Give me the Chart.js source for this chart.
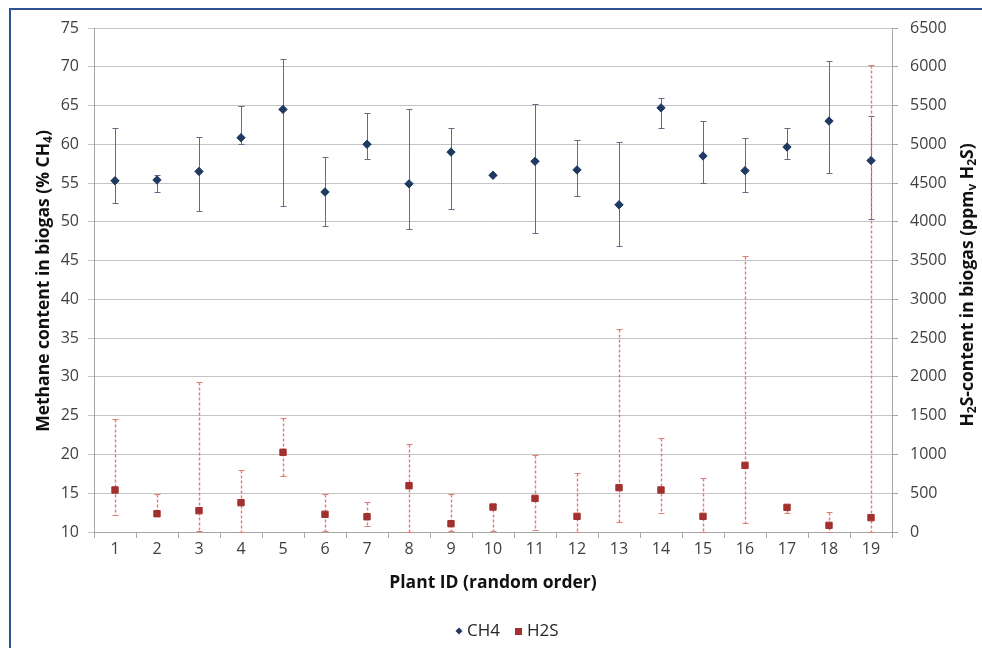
<!DOCTYPE html>
<html>
<head>
<meta charset="utf-8">
<script src="https://cdn.jsdelivr.net/npm/chart.js@4.4.1/dist/chart.umd.min.js"></script>
<style>
  html, body { margin: 0; padding: 0; background: #fff; overflow: hidden; }
  #wrap { position: relative; width: 982px; height: 648px; }
  #frame { position: absolute; left: 9px; top: 8px; width: 1100px; height: 800px; border: 2px solid #2e548f; box-sizing: border-box; }
  #biogasChart { position: absolute; left: 0; top: 0; }
</style>
</head>
<body>
<div id="wrap">
  <div id="frame"></div>
  <canvas id="biogasChart" width="982" height="648"></canvas>
</div>
<script>
const plantIds = ['1','2','3','4','5','6','7','8','9','10','11','12','13','14','15','16','17','18','19'];

// methane, % CH4 (left axis)
const ch4Mean = [55.3, 55.4, 56.5, 60.85, 64.5, 53.85, 60.0, 54.9, 59.0, 56.0, 57.8, 56.7, 52.2, 64.7, 58.5, 56.6, 59.65, 63.0, 57.9];
const ch4High = [62.1, 56.1, 60.9, 65.0, 71.0, 58.4, 64.0, 64.6, 62.1, 56.0, 65.2, 60.6, 60.3, 66.0, 63.0, 60.8, 62.1, 70.8, 63.7];
const ch4Low  = [52.4, 53.9, 51.4, 60.0, 52.0, 49.4, 58.1, 49.1, 51.7, 56.0, 48.5, 53.3, 46.9, 62.1, 55.0, 53.8, 58.1, 56.3, 50.4];

// hydrogen sulphide, ppmv (right axis)
const h2sMean = [542, 236, 275, 378, 1028, 228, 197, 597, 107, 322, 434, 202, 572, 542, 202, 860, 318, 86, 185];
const h2sHigh = [1453, 494, 1930, 796, 1474, 494, 391, 1131, 494, 357, 993, 757, 2614, 1208, 696, 3563, 348, 262, 6023];
const h2sLow  = [215, 236, 17, 0, 718, 17, 77, 0, 17, 17, 26, 0, 129, 249, 0, 116, 249, 0, 0];

// axis ranges
const ch4Axis = { min: 10, max: 75, step: 5 };
const h2sAxis = { min: 0, max: 6500, step: 500 };

const navy = '#1f3961';
const darkRed = '#a2302e';
const tickFont = { family: 'Open Sans', size: 16 };
const titleFont = 'bold 17.5px "Open Sans"';

function drawBars(ctx, xs, ys, mean, lo, hi, color, dash, width) {
    ctx.save();
    ctx.strokeStyle = color;
    mean.forEach((m, i) => {
        const px = Math.round(xs.getPixelForValue(i)) + 0.5;
        const yTop = Math.round(ys.getPixelForValue(hi[i])) + 0.5;
        const yBot = Math.round(ys.getPixelForValue(lo[i])) + 0.5;
        if (hi[i] <= lo[i]) return;
        ctx.lineWidth = width;
        ctx.setLineDash(dash);
        ctx.beginPath();
        ctx.moveTo(px, yTop);
        ctx.lineTo(px, yBot);
        ctx.stroke();
        ctx.lineWidth = 1;
        ctx.setLineDash([]);
        ctx.beginPath();
        if (hi[i] > m) { ctx.moveTo(px - 3, yTop); ctx.lineTo(px + 3, yTop); }
        if (lo[i] < m) { ctx.moveTo(px - 3, yBot); ctx.lineTo(px + 3, yBot); }
        ctx.stroke();
    });
    ctx.restore();
}

// text with subscripts, drawn rotated or flat
function drawRich(ctx, parts, cx, cy, rot) {
    ctx.save();
    ctx.translate(cx, cy);
    ctx.rotate(rot);
    const subFont = 'bold 12px "Open Sans"';
    let total = 0;
    parts.forEach(p => { ctx.font = p.sub ? subFont : titleFont; total += ctx.measureText(p.t).width; });
    let x = -total / 2;
    ctx.fillStyle = '#111';
    ctx.textBaseline = 'middle';
    ctx.textAlign = 'left';
    parts.forEach(p => {
        ctx.font = p.sub ? subFont : titleFont;
        ctx.fillText(p.t, x, p.sub ? 5 : 0);
        x += ctx.measureText(p.t).width;
    });
    ctx.restore();
}

const extras = {
    id: 'extras',
    beforeDatasetsDraw(chart) {
        const xs = chart.scales.x;
        drawBars(chart.ctx, xs, chart.scales.y, ch4Mean, ch4Low, ch4High, '#5f6d8a', [], 1);
        drawBars(chart.ctx, xs, chart.scales.y1, h2sMean, h2sLow, h2sHigh, '#e27a76', [3, 2], 1.4);
    },
    afterDraw(chart) {
        const ctx = chart.ctx;
        const area = chart.chartArea;
        const midY = (area.top + area.bottom) / 2;
        drawRich(ctx, [{ t: 'Methane content in biogas (% CH' }, { t: '4', sub: true }, { t: ')' }], 44, midY + 1, -Math.PI / 2);
        drawRich(ctx, [{ t: 'H' }, { t: '2', sub: true }, { t: 'S-content in biogas (ppm' }, { t: 'v', sub: true },
                       { t: ' H' }, { t: '2', sub: true }, { t: 'S)' }], 968, midY + 5, -Math.PI / 2);
        drawRich(ctx, [{ t: 'Plant ID (random order)' }], (area.left + area.right) / 2, 583, 0);

        // legend
        ctx.save();
        ctx.font = '17px "Open Sans"';
        ctx.textBaseline = 'middle';
        const ly = 631;
        ctx.fillStyle = navy;
        ctx.beginPath();
        ctx.moveTo(459, ly - 3.5); ctx.lineTo(462.5, ly); ctx.lineTo(459, ly + 3.5); ctx.lineTo(455.5, ly);
        ctx.closePath(); ctx.fill();
        ctx.fillStyle = '#262626';
        ctx.fillText('CH4', 467, ly);
        ctx.fillStyle = darkRed;
        ctx.fillRect(515, ly - 3, 7, 7);
        ctx.fillStyle = '#262626';
        ctx.fillText('H2S', 527, ly);
        ctx.restore();
    }
};

const ctx = document.getElementById('biogasChart').getContext('2d');
new Chart(ctx, {
    type: 'line',
    data: {
        labels: plantIds,
        datasets: [
            {
                label: 'CH4',
                data: ch4Mean,
                yAxisID: 'y',
                showLine: false,
                pointStyle: 'rectRot',
                pointRadius: 4.2,
                pointBackgroundColor: navy,
                pointBorderColor: navy,
                pointBorderWidth: 1
            },
            {
                label: 'H2S',
                data: h2sMean,
                yAxisID: 'y1',
                showLine: false,
                pointStyle: 'rect',
                pointRadius: 4.5,
                pointBackgroundColor: darkRed,
                pointBorderColor: darkRed,
                pointBorderWidth: 1
            }
        ]
    },
    options: {
        responsive: false,
        animation: false,
        layout: { padding: { top: 28, left: 0, right: 0, bottom: 0 } },
        plugins: { legend: { display: false }, tooltip: { enabled: false } },
        scales: {
            x: {
                offset: true,
                grid: { offset: true, drawOnChartArea: false, tickLength: 6, color: '#a6a6a6' },
                border: { color: '#a6a6a6' },
                ticks: { font: tickFont, color: '#404040', padding: 2, maxRotation: 0 },
                afterFit: scale => { scale.height = 116; }
            },
            y: {
                position: 'left',
                min: ch4Axis.min, max: ch4Axis.max,
                grid: { color: '#c4c4c4', tickLength: 6 },
                border: { color: '#a6a6a6' },
                ticks: { stepSize: ch4Axis.step, font: tickFont, color: '#404040', padding: 9 },
                afterFit: scale => { scale.width = 94; }
            },
            y1: {
                position: 'right',
                min: h2sAxis.min, max: h2sAxis.max,
                grid: { drawOnChartArea: false, color: '#a6a6a6', tickLength: 6 },
                border: { color: '#a6a6a6' },
                ticks: { stepSize: h2sAxis.step, font: tickFont, color: '#404040', padding: 12,
                         callback: v => String(v) },
                afterFit: scale => { scale.width = 90; }
            }
        }
    },
    plugins: [extras]
});
</script>
</body>
</html>
